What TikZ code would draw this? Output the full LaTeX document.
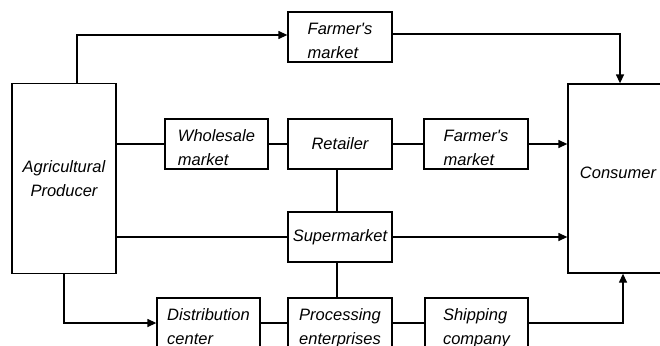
\documentclass[tikz,border=0pt]{standalone}
\usepackage{fontspec}
\setmainfont{Liberation Sans}
\usetikzlibrary{arrows.meta}
\begin{document}
\begin{tikzpicture}[x=1pt,y=-1pt,
  every node/.style={font=\fontsize{16.5}{24}\selectfont\itshape, inner sep=0pt},
  box/.style={draw, line width=1.3pt, minimum width=104pt, minimum height=50pt, align=left},
  pair/.style={box, text height=46pt, text depth=4pt},
  link/.style={line width=1.3pt},
  arr/.style={link, -{Triangle[length=9pt,width=8pt]}}]
\useasboundingbox (0,0) rectangle (660,345);
\clip (0,0) rectangle (660,345);
\fill[white] (0,0) rectangle (660,345);

% producer and consumer
\node[box, align=center, minimum height=190pt] (prod) at (64,178.5) {Agricultural\\Producer};
\node[box, minimum width=100pt, minimum height=189pt, text depth=12pt] (cons) at (618,178.5) {Consumer};

% top row
\node[pair] (fm1) at (340,37) {Farmer\textquotesingle s\\market};

% middle row
\node[pair, minimum width=103pt] (whole) at (216.5,144) {Wholesale\\market};
\node[box] (ret) at (340,144) {Retailer};
\node[pair] (fm2) at (476,144) {Farmer\textquotesingle s\\market};

% supermarket
\node[box] (sup) at (340,237) {Supermarket};

% bottom row
\node[pair, minimum width=103pt] (dist) at (208.5,323) {Distribution\\center};
\node[pair] (proc) at (340,323) {Processing\\enterprises};
\node[pair, minimum width=103pt] (ship) at (476.5,323) {Shipping\\company};

% direct sale through the farmer's market
\draw[arr] ([xshift=13pt]prod.north) |- ([yshift=2pt]fm1.west);
\draw[arr] ([yshift=3pt]fm1.east) -| ([xshift=2pt]cons.north);

% wholesale chain
\draw[link] (prod.east |- whole.west) -- (whole.west);
\draw[link] (whole.east) -- (ret.west);
\draw[link] (ret.east) -- (fm2.west);
\draw[arr] (fm2.east) -- (cons.west |- fm2.east);

% supermarket chain
\draw[link] ([xshift=-3pt]ret.south) -- ([xshift=-3pt]sup.north);
\draw[link] (prod.east |- sup.west) -- (sup.west);
\draw[arr] (sup.east) -- (cons.west |- sup.east);
\draw[link] ([xshift=-3pt]sup.south) -- ([xshift=-3pt]proc.north);

% processing chain
\draw[arr] (prod.south) |- (dist.west);
\draw[link] (dist.east) -- (proc.west);
\draw[link] (proc.east) -- (ship.west);
\draw[arr] (ship.east) -| ([xshift=5pt]cons.south);
\end{tikzpicture}
\end{document}
